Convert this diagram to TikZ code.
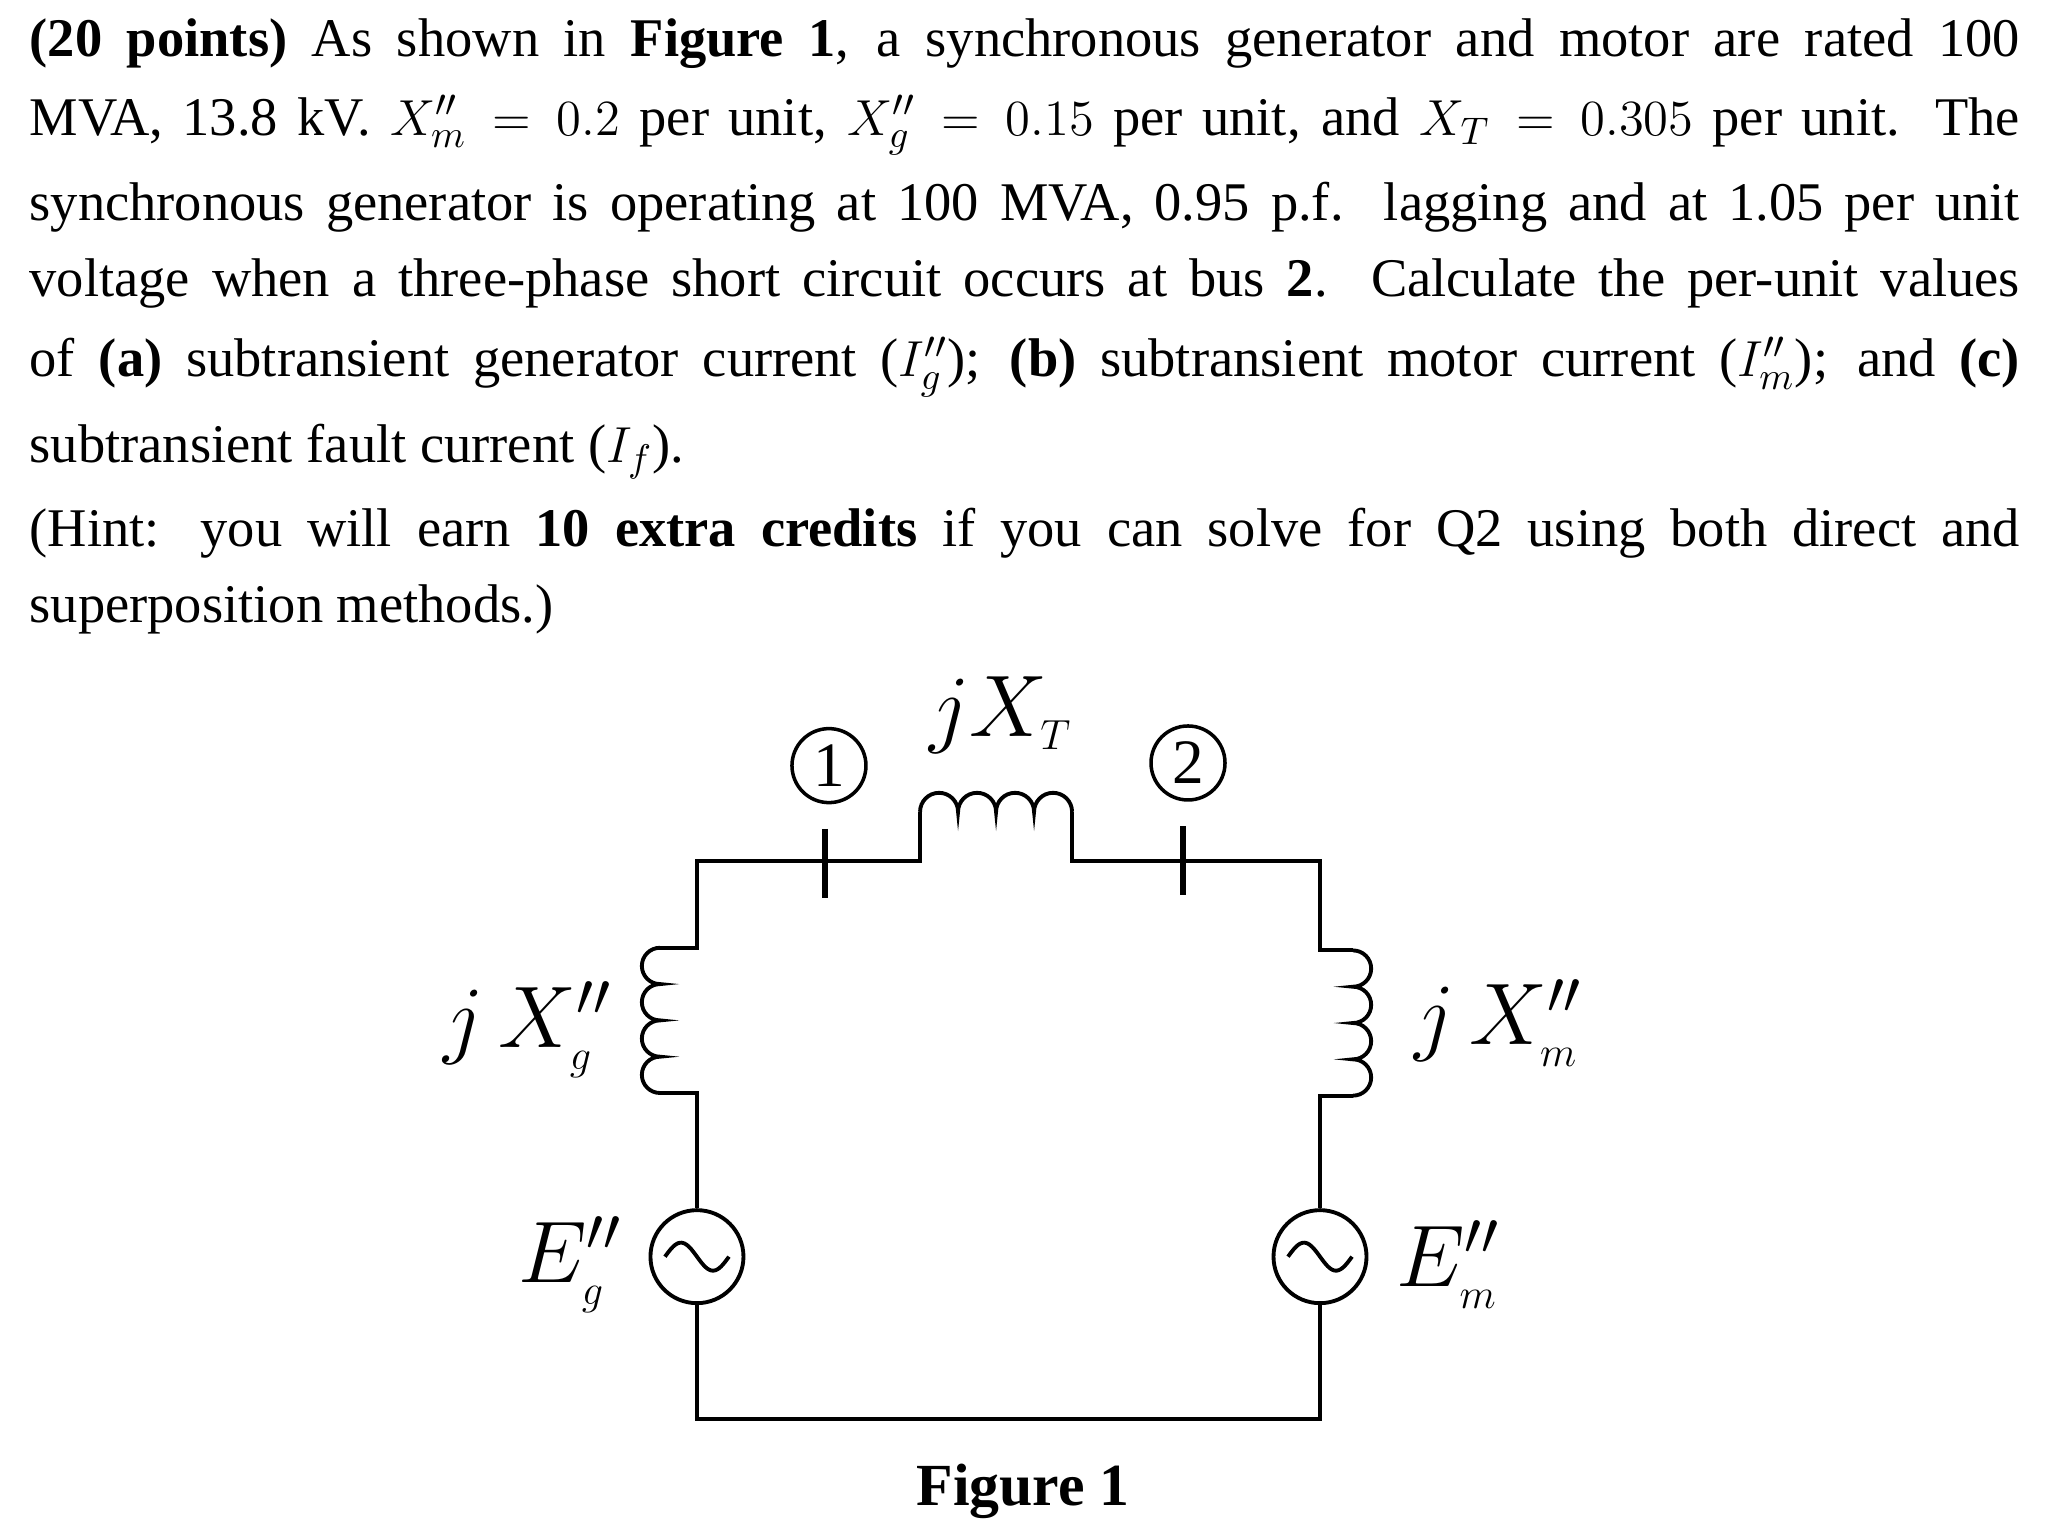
\documentclass[tikz,border=0pt]{standalone}
\usepackage{fontspec}
\setmainfont{Liberation Serif}
\begin{document}
\begin{tikzpicture}[x=0.0132cm,y=0.0132cm,
  line/.style={draw,line width=1.1pt},
  txt/.style={anchor=west,inner sep=0pt,font=\fontsize{15.5}{19}\selectfont},
  bus/.style={circle,draw,line width=1pt,minimum size=0.74cm,inner sep=0pt,font=\fontsize{18}{20}\selectfont},
  src/.style={circle,draw,line width=1.1pt,minimum size=0.93cm,inner sep=0pt},
  lab/.style={font=\fontsize{26}{28}\selectfont}]
\useasboundingbox (0,0) rectangle (1550,-1164);
\node[txt] (l1) at (22,-33) {\hbox to 19.9cm{\textbf{(20 points)} As shown in \textbf{Figure 1}, a synchronous generator and motor are rated 100}};
\node[txt] (l2) at (22,-95) {\hbox to 19.9cm{MVA, 13.8 kV. $X''_m=0.2$ per unit, $X''_g=0.15$ per unit, and $X_T=0.305$ per unit. The}};
\node[txt] (l3) at (22,-157) {\hbox to 19.9cm{synchronous generator is operating at 100 MVA, 0.95 p.f. lagging and at 1.05 per unit}};
\node[txt] (l4) at (22,-215) {\hbox to 19.9cm{voltage when a three-phase short circuit occurs at bus \textbf{2}. Calculate the per-unit values}};
\node[txt] (l5) at (22,-278) {\hbox to 19.9cm{of \textbf{(a)} subtransient generator current ($I''_g$); \textbf{(b)} subtransient motor current ($I''_m$); and \textbf{(c)}}};
\node[txt] (l6) at (22,-342) {subtransient fault current ($I_f$).};
\node[txt] (l7) at (22,-404) {\hbox to 19.9cm{(Hint: you will earn \textbf{10 extra credits} if you can solve for Q2 using both direct and}};
\node[txt] (l8) at (22,-462) {superposition methods.)};
% sources
\node[src] (eg) at (528,-952) {};
\node[src] (em) at (1000,-952) {};
\foreach \s in {eg,em}{
  \begin{scope}[shift={(\s.center)},x=1cm,y=1cm]
  \draw[line width=1.1pt,smooth] plot[domain=-180:180,samples=40] ({\x*0.32/180},{-0.14*sin(\x)});
  \end{scope}}
% coordinates
\coordinate (a1) at (528,-828); \coordinate (a2) at (500,-828);
\coordinate (a3) at (500,-718); \coordinate (a4) at (528,-718);
\coordinate (tl) at (528,-652); \coordinate (t1) at (697,-652);
\coordinate (t2) at (697,-615); \coordinate (t3) at (812,-615);
\coordinate (t4) at (812,-652); \coordinate (tr) at (1000,-652);
\coordinate (b1) at (1000,-720); \coordinate (b2) at (1025,-720);
\coordinate (b3) at (1025,-830); \coordinate (b4) at (1000,-830);
\coordinate (bl) at (528,-1075); \coordinate (br) at (1000,-1075);
\draw[line] (eg.north) -- (a1) -- (a2);
\draw[line] (a3) arc[start angle=90,end angle=270,radius=0.1815cm] arc[start angle=90,end angle=270,radius=0.1815cm] arc[start angle=90,end angle=270,radius=0.1815cm] arc[start angle=90,end angle=270,radius=0.1815cm];
\draw[line] (a3) -- (a4) -- (tl) -- (t1) -- (t2);
\draw[line] (t2) arc[start angle=180,end angle=0,radius=0.19cm] arc[start angle=180,end angle=0,radius=0.19cm] arc[start angle=180,end angle=0,radius=0.19cm] arc[start angle=180,end angle=0,radius=0.19cm];
\draw[line] (t3) -- (t4) -- (tr) -- (b1) -- (b2);
\draw[line] (b2) arc[start angle=90,end angle=-90,radius=0.1815cm] arc[start angle=90,end angle=-90,radius=0.1815cm] arc[start angle=90,end angle=-90,radius=0.1815cm] arc[start angle=90,end angle=-90,radius=0.1815cm];
\draw[line] (b3) -- (b4) -- (em.north);
\draw[line] (eg.south) -- (bl) -- (br) -- (em.south);
% bus ticks
\coordinate (k1a) at (625,-628); \coordinate (k1b) at (625,-680);
\coordinate (k2a) at (896,-626); \coordinate (k2b) at (896,-678);
\draw[line width=1.6pt] (k1a) -- (k1b);
\draw[line width=1.6pt] (k2a) -- (k2b);
\node[bus] (n1) at (628,-580) {1};
\node[bus] (n2) at (900,-578) {2};
% labels
\node[lab] (xt) at (758,-542) {$jX_{\scriptscriptstyle T}$};
\node[lab] (xg) at (400,-780) {$j\,X''_{\scriptscriptstyle g}$};
\node[lab] (xm) at (1135,-775) {$j\,X''_{\scriptscriptstyle m}$};
\node[lab] (lg) at (432,-958) {$E''_{\scriptscriptstyle g}$};
\node[lab] (lm) at (1097,-958) {$E''_{\scriptscriptstyle m}$};
\node[font=\fontsize{17}{20}\selectfont\bfseries] (fig) at (775,-1130) {Figure 1};
\end{tikzpicture}
\end{document}
